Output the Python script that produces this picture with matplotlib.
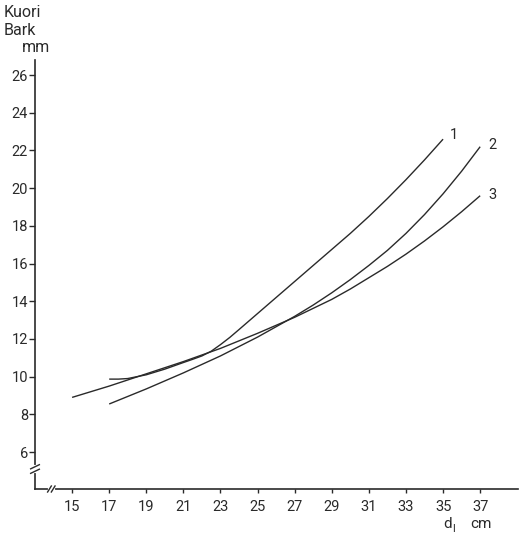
import matplotlib
matplotlib.use("Agg")
import matplotlib.pyplot as plt

# values (diameter cm -> bark thickness mm)
d1 = [17, 17.5, 18, 19, 20, 21, 21.5, 22, 22.5, 23, 23.5, 24, 25, 26, 27, 28, 29,
      30, 31, 32, 33, 34, 35]
bark1 = [9.87, 9.87, 9.9, 10.1, 10.4, 10.75, 10.92, 11.1, 11.35, 11.7, 12.08, 12.5,
         13.35, 14.2, 15.05, 15.9, 16.75, 17.6, 18.5, 19.45, 20.45, 21.5, 22.6]

d2 = [17, 19, 21, 23, 25, 27, 28, 29, 30, 31, 32, 33, 34, 35, 36, 37]
bark2 = [8.55, 9.35, 10.2, 11.1, 12.1, 13.2, 13.8, 14.45, 15.15, 15.9, 16.7, 17.6,
         18.6, 19.7, 20.9, 22.2]

d3 = [15, 17, 19, 21, 23, 25, 27, 29, 30, 31, 32, 33, 34, 35, 36, 37]
bark3 = [8.9, 9.5, 10.15, 10.8, 11.5, 12.3, 13.15, 14.1, 14.65, 15.25, 15.85, 16.5,
         17.2, 17.95, 18.75, 19.6]

curve_names = ["1", "2", "3"]
x_ticks = [15, 17, 19, 21, 23, 25, 27, 29, 31, 33, 35, 37]
y_ticks = [6, 8, 10, 12, 14, 16, 18, 20, 22, 24, 26]

INK = "#2a2a2a"
W, H = 521, 538

plt.rcParams["font.family"] = ["Roboto", "DejaVu Sans"]

fig = plt.figure(figsize=(W / 100, H / 100), dpi=100)
fig.patch.set_facecolor("white")

ax_left, ax_right, ax_top, ax_bottom = 35, 518, 60, 489
ax = fig.add_axes([ax_left / W, 1 - ax_bottom / H,
                   (ax_right - ax_left) / W, (ax_bottom - ax_top) / H])
ax.set_xlim(13.0, 39.04)
ax.set_ylim(4.04, 26.8)

series = [(d1, bark1, (4.5, 3)), (d2, bark2, (5.8, 1.5)), (d3, bark3, (5.8, 0.7))]
for (x, y, off), name in zip(series, curve_names):
    ax.plot(x, y, color=INK, lw=1.0, solid_capstyle="butt", solid_joinstyle="round")
    ax.annotate(name, xy=(x[-1], y[-1]), xytext=off, textcoords="offset points",
                ha="left", va="center", fontsize=10.5, color=INK)

for side in ("top", "right"):
    ax.spines[side].set_visible(False)
for side in ("left", "bottom"):
    ax.spines[side].set_color(INK)
    ax.spines[side].set_linewidth(1.2)

ax.set_xticks(x_ticks)
ax.set_yticks(y_ticks)
ax.tick_params(axis="x", direction="out", length=3, width=1.0, color=INK,
               labelsize=10.5, labelcolor=INK, pad=5)
ax.tick_params(axis="y", direction="out", length=4, width=1.0, color=INK,
               labelsize=10.5, labelcolor=INK, pad=1)

# axis break marks
ytr = ax.get_yaxis_transform()
xtr = ax.get_xaxis_transform()
ax.plot([0, 0], [5.0, 5.22], transform=ytr, color="white", lw=3, clip_on=False, zorder=5)
for yb in (4.98, 5.22):
    ax.plot([-0.009, 0.009], [yb - 0.11, yb + 0.11], transform=ytr, color=INK,
            lw=1.0, clip_on=False, zorder=6)
ax.plot([13.82, 13.98], [0, 0], transform=xtr, color="white", lw=3, clip_on=False, zorder=5)
for xb in (13.78, 13.98):
    ax.plot([xb - 0.1, xb + 0.1], [-0.007, 0.007], transform=xtr, color=INK,
            lw=1.0, clip_on=False, zorder=6)

# axis titles
fig.text(4 / W, 1 - 17 / H, "Kuori", fontsize=11.5, color=INK, va="baseline")
fig.text(4 / W, 1 - 35 / H, "Bark", fontsize=11.5, color=INK, va="baseline")
fig.text(22 / W, 1 - 52 / H, "mm", fontsize=11.5, color=INK, va="baseline")

fig.text(443 / W, 1 - 528 / H, "d", fontsize=11, color=INK, va="baseline")
fig.text(452 / W, 1 - 532 / H, "l", fontsize=8, color=INK, va="baseline")
fig.text(470 / W, 1 - 528 / H, "cm", fontsize=11, color=INK, va="baseline")

fig.savefig("out.png", dpi=100, facecolor="white")
